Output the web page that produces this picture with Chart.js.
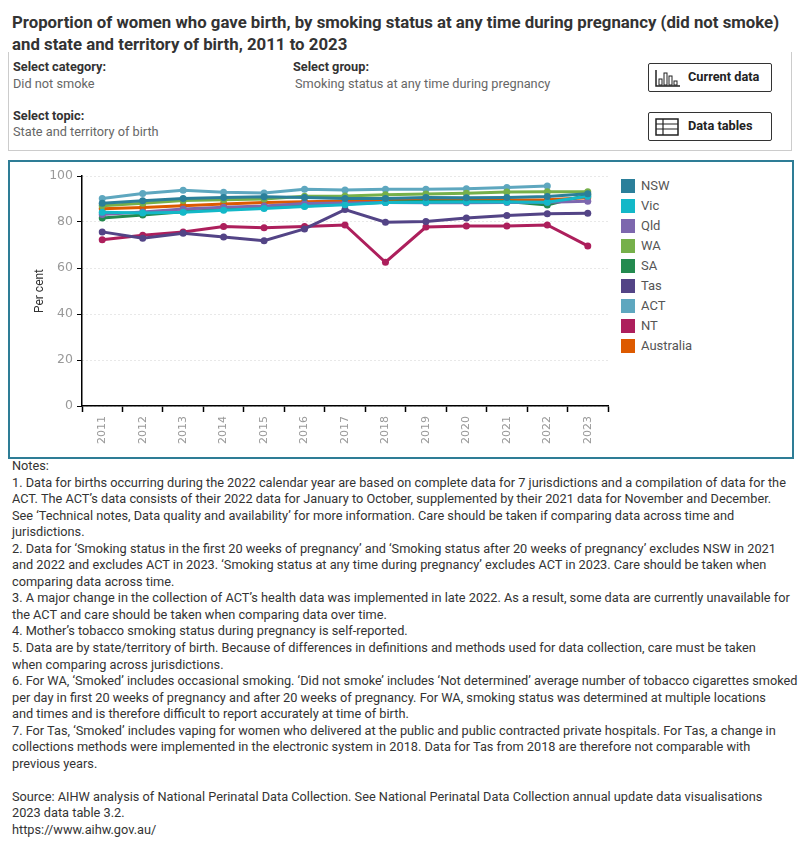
<!DOCTYPE html>
<html>
<head>
<meta charset="utf-8">
<script src="https://cdn.jsdelivr.net/npm/chart.js@4"></script>
<style>
  body { margin: 0; width: 800px; height: 850px; background: #fff; position: relative; overflow: hidden;
         font-family: "Liberation Sans Narrow", Roboto, "Noto Sans", sans-serif; color: #333; }
  .abs { position: absolute; white-space: nowrap; transform-origin: 0 50%; }
  .title { left: 12px; font-size: 17px; font-weight: bold; line-height: 22px; color: #333; }
  .lbl { font-size: 12.5px; font-weight: bold; line-height: 16px; color: #333; }
  .val { font-size: 12.5px; line-height: 16px; color: #666; }
  #panel { position: absolute; left: 8px; top: 52px; width: 782px; height: 98px; border: 1px solid #ccc; border-top: none; }
  .btn { position: absolute; left: 648px; width: 122px; height: 27px; border: 1px solid #333; border-radius: 2px;
         font-size: 12.5px; font-weight: bold; color: #222; }
  .btn svg { position: absolute; left: 6px; top: 5px; }
  .btn span { position: absolute; left: 39px; top: 5px; line-height: 16px; white-space: nowrap; transform-origin: 0 50%; }
  #box { position: absolute; left: 8px; top: 160px; width: 782px; height: 295px; border: 2px solid #2e7d96; }
  #chart { position: absolute; left: 10px; top: 162px; }
  .leg { position: absolute; left: 621px; font-size: 13px; color: #555; line-height: 14px; }
  .leg i { position: absolute; left: 0; top: 0; width: 14px; height: 14px; }
  .leg span { position: absolute; left: 20px; top: 0; white-space: nowrap; }
  #notes { position: absolute; left: 12px; top: 458px; font-size: 12.5px; line-height: 16.55px; color: #333;
           white-space: pre; transform-origin: 0 0; }
</style>
</head>
<body>
<div class="abs title" id="t1" style="top:11px">Proportion of women who gave birth, by smoking status at any time during pregnancy (did not smoke)</div>
<div class="abs title" id="t2" style="top:33px">and state and territory of birth, 2011 to 2023</div>

<div id="panel"></div>
<div class="abs lbl nx" style="left:13px;top:59px">Select category:</div>
<div class="abs val nx" style="left:13px;top:76px">Did not smoke</div>
<div class="abs lbl nx" style="left:293px;top:59px">Select group:</div>
<div class="abs val nx" style="left:295px;top:76px">Smoking status at any time during pregnancy</div>
<div class="abs lbl nx" style="left:13px;top:108px">Select topic:</div>
<div class="abs val nx" style="left:13px;top:124px">State and territory of birth</div>

<div class="btn" style="top:63px">
  <svg width="26" height="18" viewBox="0 0 26 18"><path d="M1 1 V17 H25" fill="none" stroke="#222" stroke-width="1.5"/><rect x="4" y="10" width="3" height="6" fill="none" stroke="#222"/><rect x="9" y="4" width="3" height="12" fill="none" stroke="#222"/><rect x="14" y="7" width="3" height="9" fill="none" stroke="#222"/><rect x="19" y="12" width="3" height="4" fill="none" stroke="#222"/></svg>
  <span class="nx">Current data</span>
</div>
<div class="btn" style="top:112px">
  <svg width="26" height="18" viewBox="0 0 26 18"><rect x="1" y="1" width="22" height="16" fill="none" stroke="#222" stroke-width="1.5"/><path d="M1 6 H23 M1 11 H23 M8 1 V17" stroke="#222" stroke-width="1.2"/></svg>
  <span class="nx">Data tables</span>
</div>

<div id="box"></div>
<canvas id="chart" width="602" height="294"></canvas>
<div id="legend"></div>

<div id="notes">Notes:
1. Data for births occurring during the 2022 calendar year are based on complete data for 7 jurisdictions and a compilation of data for the
ACT. The ACT’s data consists of their 2022 data for January to October, supplemented by their 2021 data for November and December.
See ‘Technical notes, Data quality and availability’ for more information. Care should be taken if comparing data across time and
jurisdictions.
2. Data for ‘Smoking status in the first 20 weeks of pregnancy’ and ‘Smoking status after 20 weeks of pregnancy’ excludes NSW in 2021
and 2022 and excludes ACT in 2023. ‘Smoking status at any time during pregnancy’ excludes ACT in 2023. Care should be taken when
comparing data across time.
3. A major change in the collection of ACT’s health data was implemented in late 2022. As a result, some data are currently unavailable for
the ACT and care should be taken when comparing data over time.
4. Mother’s tobacco smoking status during pregnancy is self-reported.
5. Data are by state/territory of birth. Because of differences in definitions and methods used for data collection, care must be taken
when comparing across jurisdictions.
6. For WA, ‘Smoked’ includes occasional smoking. ‘Did not smoke’ includes ‘Not determined’ average number of tobacco cigarettes smoked
per day in first 20 weeks of pregnancy and after 20 weeks of pregnancy. For WA, smoking status was determined at multiple locations
and times and is therefore difficult to report accurately at time of birth.
7. For Tas, ‘Smoked’ includes vaping for women who delivered at the public and public contracted private hospitals. For Tas, a change in
collections methods were implemented in the electronic system in 2018. Data for Tas from 2018 are therefore not comparable with
previous years.

Source: AIHW analysis of National Perinatal Data Collection. See National Perinatal Data Collection annual update data visualisations
2023 data table 3.2.
https://www.aihw.gov.au/</div>

<script>
// chart data
const years = ["2011", "2012", "2013", "2014", "2015", "2016", "2017", "2018", "2019", "2020", "2021", "2022", "2023"];
const yTicks = [0, 20, 40, 60, 80, 100];

const nsw = [88.2, 89.2, 90.2, 90.6, 91.0, 90.6, 90.2, 90.2, 90.6, 90.5, 90.7, 91.1, 92.3];
const vic = [84.2, 83.9, 84.2, 85.1, 85.9, 86.7, 87.5, 88.5, 88.6, 88.7, 88.7, 88.6, 91.2];
const qld = [83.3, 84.4, 85.6, 86.4, 87.0, 88.0, 88.3, 88.5, 88.4, 88.4, 88.5, 88.6, 89.0];
const wa = [87.1, 88.1, 89.3, 89.7, 90.0, 91.2, 91.3, 91.9, 92.2, 92.5, 93.0, 93.1, 93.2];
const sa = [81.7, 83.0, 84.5, 85.5, 86.2, 87.0, 87.8, 88.6, 89.0, 89.0, 88.9, 87.4, 91.8];
const tas = [75.7, 72.9, 75.1, 73.5, 71.9, 77.0, 85.4, 79.9, 80.2, 81.7, 82.8, 83.6, 83.8];
const act = [90.2, 92.4, 93.8, 92.9, 92.6, 94.2, 93.9, 94.2, 94.2, 94.5, 95.0, 95.7, null];
const nt = [72.3, 74.2, 75.7, 78.0, 77.5, 78.0, 78.7, 62.5, 77.8, 78.3, 78.3, 78.7, 69.6];
const australia = [85.8, 86.3, 87.1, 87.8, 88.5, 88.8, 89.1, 89.3, 89.4, 89.6, 89.6, 89.7, 90.5];

const seriesNames = ["NSW", "Vic", "Qld", "WA", "SA", "Tas", "ACT", "NT", "Australia"];
const seriesData = [nsw, vic, qld, wa, sa, tas, act, nt, australia];
const seriesColors = ["#2b7f9a", "#13b8c8", "#7d67ae", "#76b04a", "#238a4f", "#534486", "#5ea7bf", "#ad1f5c", "#dd5a00"];

// squeeze text to the narrow look of the original
const titleF = 767 / document.getElementById("t1").scrollWidth;
document.querySelectorAll(".title").forEach((el) => (el.style.transform = `scaleX(${titleF})`));
const notes = document.getElementById("notes");
const probe = document.createElement("span");
probe.style.cssText = "position:absolute;visibility:hidden;white-space:nowrap;font-size:12.5px";
probe.textContent = notes.textContent.split("\n")[1];
document.body.appendChild(probe);
const bodyF = 774 / probe.offsetWidth;
probe.remove();
notes.style.transform = `scaleX(${bodyF})`;
document.querySelectorAll(".nx").forEach((el) => (el.style.transform = `scaleX(${bodyF})`));

// legend
const legend = document.getElementById("legend");
seriesNames.forEach((name, i) => {
  const d = document.createElement("div");
  d.className = "leg";
  d.style.top = 179 + i * 20 + "px";
  d.innerHTML = `<i style="background:${seriesColors[i]}"></i><span>${name}</span>`;
  legend.appendChild(d);
});

new Chart(document.getElementById("chart"), {
  type: "line",
  data: {
    labels: years,
    datasets: seriesNames.map((name, i) => ({
      label: name,
      data: seriesData[i],
      borderColor: seriesColors[i],
      backgroundColor: seriesColors[i],
      borderWidth: 3,
      pointRadius: 3.5,
      pointBorderWidth: 0,
      tension: 0,
      spanGaps: false,
    })),
  },
  options: {
    responsive: false,
    animation: false,
    layout: { padding: { top: 14, right: 2, left: 0, bottom: 0 } },
    plugins: { legend: { display: false }, tooltip: { enabled: false } },
    scales: {
      x: {
        offset: true,
        grid: { offset: true, drawOnChartArea: false, tickLength: 6, tickColor: "#000", tickWidth: 1.5 },
        border: { color: "#000", width: 1.5 },
        ticks: { color: "#999", minRotation: 90, maxRotation: 90, padding: 4, font: { family: "DejaVu Sans", size: 11 } },
        afterFit: (s) => { s.height = 50; },
      },
      y: {
        min: 0,
        max: 100,
        afterBuildTicks: (s) => { s.ticks = yTicks.map((v) => ({ value: v })); },
        ticks: { color: "#999", padding: 4, font: { family: "DejaVu Sans", size: 12.5 } },
        grid: { color: "#d0d0d0", tickLength: 5, tickColor: "#000", tickBorderDash: [] },
        border: { color: "#000", width: 1.5, dash: [1, 3] },
        title: { display: true, text: "Per cent", color: "#333", font: { family: "Roboto", size: 12 }, padding: { top: 23, bottom: 0 } },
        afterFit: (s) => { s.width = 72; },
      },
    },
  },
});
</script>
</body>
</html>
